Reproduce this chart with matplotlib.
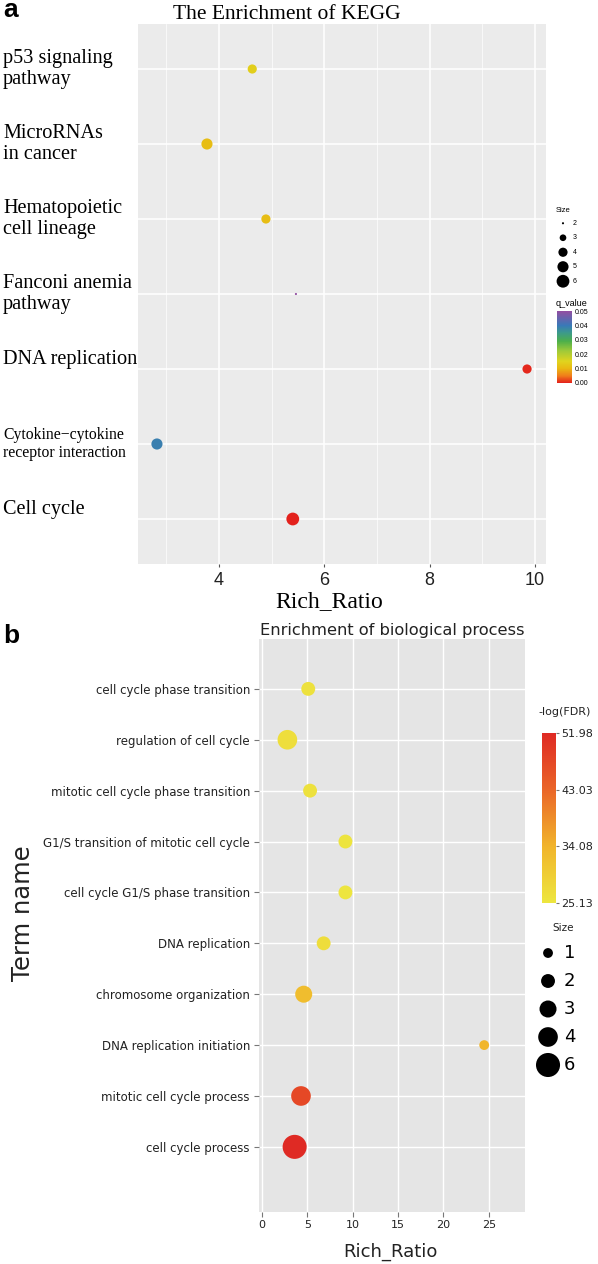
import numpy as np
import matplotlib
matplotlib.use("Agg")
import matplotlib.pyplot as plt
from matplotlib.colors import LinearSegmentedColormap, Normalize

# ---- panel a : KEGG ----
kegg_terms = ["p53 signaling\npathway", "MicroRNAs\nin cancer", "Hematopoietic\ncell lineage",
              "Fanconi anemia\npathway", "DNA replication",
              "Cytokine\u2212cytokine\nreceptor interaction", "Cell cycle"]
kegg_rich = [4.63, 3.77, 4.89, 5.46, 9.85, 2.82, 5.40]
kegg_size = [4, 5, 4, 2, 4, 5, 6]
kegg_q = [0.014, 0.011, 0.011, 0.05, 0.0005, 0.039, 0.0]
kegg_size_breaks = [2, 3, 4, 5, 6]
kegg_q_ticks = [0.00, 0.01, 0.02, 0.03, 0.04, 0.05]

# ---- panel b : biological process ----
bp_terms = ["cell cycle phase transition", "regulation of cell cycle",
            "mitotic cell cycle phase transition", "G1/S transition of mitotic cell cycle",
            "cell cycle G1/S phase transition", "DNA replication", "chromosome organization",
            "DNA replication initiation", "mitotic cell cycle process", "cell cycle process"]
bp_rich = [5.1, 2.8, 5.3, 9.2, 9.2, 6.8, 4.6, 24.5, 4.3, 3.6]
bp_size = [2, 4, 2, 2, 2, 2, 3, 1, 4, 6]
bp_fdr = [26.0, 26.5, 26.0, 25.6, 25.4, 26.8, 32.6, 33.8, 47.4, 51.98]
bp_size_breaks = [1, 2, 3, 4, 6]
bp_fdr_ticks = [25.13, 34.08, 43.03, 51.98]

W, H = 598, 1264
fig = plt.figure(figsize=(W / 100, H / 100), dpi=100)


def box(x0, y0, x1, y1):
    # pixel box (top-left origin) -> figure fraction rect
    return [x0 / W, 1 - y1 / H, (x1 - x0) / W, (y1 - y0) / H]


def size_a(v):
    # ggplot-like area scale, range 1..6
    v = np.asarray(v, float)
    d = 12.8 * np.sqrt(1 / 36 + (35 / 36) * (v - 2) / 4)
    return (d * 0.72) ** 2


def size_b(v):
    return 50 * np.asarray(v, float)


serif = "Liberation Serif"
sans = "Liberation Sans"

cmap_a = LinearSegmentedColormap.from_list("qv", [
    (0.0, "#E3211C"), (0.1, "#F07E1A"), (0.2, "#E9B812"), (0.3, "#E0D41E"),
    (0.45, "#9DC93A"), (0.58, "#4DAF4A"), (0.7, "#3C9A8C"), (0.8, "#3979B8"),
    (1.0, "#934EA2")])
norm_a = Normalize(0, 0.05)

ax = fig.add_axes(box(138, 24, 546, 564))
ax.set_facecolor("#EBEBEB")
for s in ax.spines.values():
    s.set_visible(False)
ypos_a = np.arange(len(kegg_terms))[::-1] + 1
sc = ax.scatter(kegg_rich, ypos_a, s=size_a(kegg_size), c=kegg_q, cmap=cmap_a, norm=norm_a,
                linewidths=0, zorder=3)
ax.set_xlim(2.46, 10.21)
ax.set_ylim(0.4, 7.6)
ax.set_xticks([4, 6, 8, 10])
ax.set_xticks([3, 5, 7, 9], minor=True)
ax.set_yticks(ypos_a, labels=kegg_terms)
ax.set_axisbelow(True)
ax.grid(which="major", color="white", lw=1.1)
ax.grid(which="minor", axis="x", color="white", lw=0.5)
ax.tick_params(axis="x", which="major", length=2.2, color="#555555", pad=3.5, labelsize=13)
ax.tick_params(axis="x", which="minor", length=0)
for t in ax.get_xticklabels():
    t.set_family(sans)
    t.set_color("#222222")
ax.tick_params(axis="y", length=0, pad=135 * 0.72)
for t in ax.get_yticklabels():
    t.set_family(serif)
    t.set_ha("left")
    txt = t.get_text()
    t.set_fontsize(11.3 if txt.startswith("Cytokine") else 14.6)
    t.set_va("center" if "\n" in txt else "bottom")
    t.set_linespacing(1.15)

fig.text(3 / W, 1 - 17 / H, "a", fontsize=19, fontweight="bold", family=sans, va="baseline")
fig.text(287 / W, 1 - 19 / H, "The Enrichment of KEGG", fontsize=15.5, family=serif,
         ha="center", va="baseline")
fig.text(329 / W, 1 - 607 / H, "Rich_Ratio", fontsize=17, family=serif, ha="center", va="baseline")

# size legend a
lax = fig.add_axes(box(553, 216, 590, 288.5))
lax.axis("off")
lax.set_xlim(0, 1)
lax.set_ylim(len(kegg_size_breaks) - 0.5, -0.5)
lax.scatter([0.27] * len(kegg_size_breaks), range(len(kegg_size_breaks)),
            s=size_a(kegg_size_breaks), c="black", linewidths=0)
for i, b in enumerate(kegg_size_breaks):
    lax.text(0.54, i, str(b), fontsize=5, family=sans, va="center")
fig.text(556 / W, 1 - 210 / H, "Size", fontsize=5.5, family=sans, va="center")

# colour bar a
cax = fig.add_axes(box(557, 311, 572, 383))
cb = fig.colorbar(sc, cax=cax, ticks=kegg_q_ticks)
cb.outline.set_visible(False)
cb.ax.set_yticklabels([f"{v:.2f}" for v in kegg_q_ticks])
cb.ax.tick_params(length=0, pad=2.2, labelsize=5)
for t in cb.ax.get_yticklabels():
    t.set_family(sans)
fig.text(556 / W, 1 - 304 / H, "q_value", fontsize=6.5, family=sans, va="center")

# ---- panel b ----
cmap_b = LinearSegmentedColormap.from_list("fdr", [
    (0.0, "#EDE63F"), (0.33, "#F1B52B"), (0.67, "#EA6528"), (1.0, "#DF2A24")])
norm_b = Normalize(min(bp_fdr_ticks), max(bp_fdr_ticks))

ax2 = fig.add_axes(box(259, 639, 525, 1212))
ax2.set_facecolor("#E5E5E5")
for s in ax2.spines.values():
    s.set_visible(False)
ypos_b = np.arange(len(bp_terms))[::-1]
sc2 = ax2.scatter(bp_rich, ypos_b, s=size_b(bp_size), c=bp_fdr, cmap=cmap_b, norm=norm_b,
                  linewidths=0, zorder=3)
ax2.set_xlim(-0.33, 29.0)
ax2.set_ylim(-1.28, 9.98)
ax2.set_xticks([0, 5, 10, 15, 20, 25])
ax2.set_yticks(ypos_b, labels=bp_terms)
ax2.set_axisbelow(True)
ax2.grid(color="white", lw=1.0)
ax2.tick_params(axis="y", length=3.5, color="#777777", pad=3, labelsize=8.5, labelcolor="#222222")
ax2.tick_params(axis="x", length=3.5, color="#777777", pad=2, labelsize=8, labelcolor="#222222")
ax2.set_title("Enrichment of biological process", fontsize=11.7, pad=3, color="#222222")

fig.text(3 / W, 1 - 643 / H, "b", fontsize=19, fontweight="bold", family=sans, va="baseline")
fig.text(390 / W, 1 - 1257 / H, "Rich_Ratio", fontsize=13, ha="center", va="baseline",
         color="#222222")
fig.text(23 / W, 1 - 913 / H, "Term name", fontsize=17.5, rotation=90, ha="center",
         va="center", color="#222222")

# colour bar b
cax2 = fig.add_axes(box(542, 733, 556, 903))
cb2 = fig.colorbar(sc2, cax=cax2, ticks=bp_fdr_ticks)
cb2.outline.set_visible(False)
cb2.ax.set_yticklabels([f"{v:.2f}" for v in bp_fdr_ticks])
cb2.ax.tick_params(length=2.5, color="#777777", pad=1.5, labelsize=8, labelcolor="#222222")
fig.text(538 / W, 1 - 712 / H, "-log(FDR)", fontsize=8, va="center", color="#222222")

# size legend b
lax2 = fig.add_axes(box(530, 939, 598, 1079))
lax2.axis("off")
lax2.set_xlim(0, 1)
lax2.set_ylim(len(bp_size_breaks) - 0.5, -0.5)
lax2.scatter([0.265] * len(bp_size_breaks), range(len(bp_size_breaks)),
             s=size_b(bp_size_breaks), c="black", linewidths=0)
for i, b in enumerate(bp_size_breaks):
    lax2.text(0.5, i, str(b), fontsize=13, va="center")
fig.text(563 / W, 1 - 928 / H, "Size", fontsize=7.5, ha="center", va="center", color="#222222")

fig.savefig("out.png", dpi=100)
